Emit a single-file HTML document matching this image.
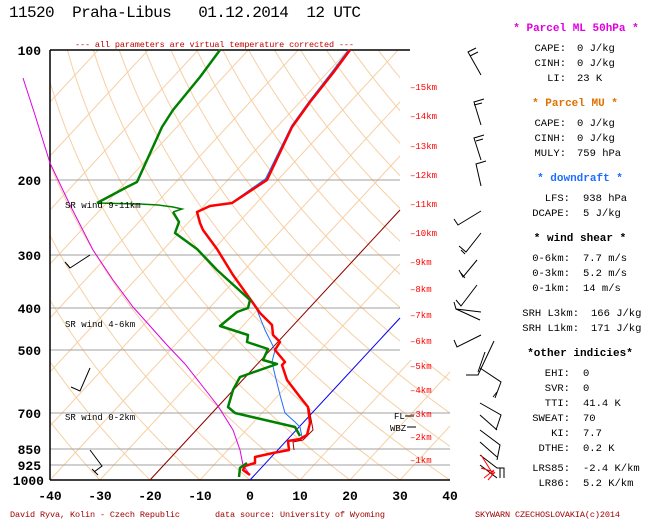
<!DOCTYPE html>
<html><head><meta charset="utf-8"><style>
html,body{margin:0;padding:0;background:#fff;}
svg{display:block;font-family:"Liberation Mono",monospace;}
</style></head><body>
<svg id="s" width="651" height="521" viewBox="0 0 651 521" xmlns="http://www.w3.org/2000/svg">
<defs>
<clipPath id="cp"><polygon points="50,50 400,50 400,360 450,360 450,480 50,480"/></clipPath>
</defs>
<rect width="651" height="521" fill="#fff"/>
<g id="grid" clip-path="url(#cp)" stroke="#f7cfa3" stroke-width="1" fill="none"></g>
<g stroke="#a0a0a0" stroke-width="1">
<line x1="50" y1="180" x2="400" y2="180"/>
<line x1="50" y1="255" x2="400" y2="255"/>
<line x1="50" y1="308" x2="400" y2="308"/>
<line x1="50" y1="350" x2="400" y2="350"/>
<line x1="50" y1="413" x2="450" y2="413"/>
<line x1="50" y1="449" x2="450" y2="449"/>
<line x1="50" y1="465" x2="450" y2="465"/>
</g>
<g stroke="#000" stroke-width="1.5" fill="none">
<line x1="50" y1="50" x2="410" y2="50"/>
<line x1="50" y1="50" x2="50" y2="480"/>
<line x1="50" y1="480" x2="450" y2="480"/>
</g>
<!-- brown and blue isotherms -->
<line x1="150" y1="480" x2="400" y2="210" stroke="#8b0000" stroke-width="1"/>
<line x1="250" y1="480" x2="400" y2="318" stroke="#0000ff" stroke-width="1"/>
<!-- magenta -->
<polyline fill="none" stroke="#e000e0" stroke-width="1" points="23,78 35,115 50,163 70,205 93,250 113,280 133,307 150,326 167,345 185,364 200,383 218,406 233,430 240,450 243,465 250,475"/>
<!-- thin blue -->
<polyline fill="none" stroke="#1e6eff" stroke-width="1" points="253,303 257,310 265,330 275,350 272,362 275,375 280,395 285,413 295,422 300,427 302,437"/>
<polyline fill="none" stroke="#1e6eff" stroke-width="2" points="349,50 331,74 310,101 292,126 266,179 232,203"/>
<!-- thin dark red -->
<polyline fill="none" stroke="#a00000" stroke-width="1" points="309,408 313,430 303,440 293,442 294,450"/>
<!-- temperature -->
<polyline fill="none" stroke="#ff0000" stroke-width="2.5" stroke-linejoin="round" points="350,50 333,73 310,102 292,127 267,180 232,203 210,206 197,212 200,223 203,230 217,249 233,275 253,303 260,313 272,325 273,335 280,342 275,350 285,362 282,365 287,380 300,397 308,407 310,423 307,435 300,439 288,441 289,450 273,453 255,457 255,463 245,466 243,470 250,475"/>
<!-- dewpoint -->
<polyline fill="none" stroke="#008000" stroke-width="2.5" stroke-linejoin="round" points="220,50 200,77 173,110 162,127 137,182 127,187 97,203"/>
<polyline fill="none" stroke="#008000" stroke-width="1.5" points="97,203 140,204 158,205 173,207 182,209 173,212"/>
<polyline fill="none" stroke="#008000" stroke-width="2.5" stroke-linejoin="round" points="173,212 179,222 175,233 197,249 217,270 250,300 248,308 237,312 220,326 248,335 247,342 268,349 263,360 277,364 240,377 233,390 228,407 235,413 295,427 300,436"/>
<polyline fill="none" stroke="#008000" stroke-width="2.5" points="247,463 240,468 239,477"/>
<!-- pressure labels -->
<g font-weight="bold" font-size="13" text-anchor="end" fill="#000">
<text x="41" y="55">100</text><text x="41" y="185">200</text><text x="41" y="260">300</text>
<text x="41" y="313">400</text><text x="41" y="355">500</text><text x="41" y="418">700</text>
<text x="41" y="454">850</text><text x="41" y="470">925</text><text x="44" y="485">1000</text>
</g>
<g font-weight="bold" font-size="13" text-anchor="middle" fill="#000">
<text x="50" y="500">-40</text><text x="100" y="500">-30</text><text x="150" y="500">-20</text>
<text x="200" y="500">-10</text><text x="250" y="500">0</text><text x="300" y="500">10</text>
<text x="350" y="500">20</text><text x="400" y="500">30</text><text x="450" y="500">40</text>
</g>
<!-- height labels -->
<g font-size="9" fill="#ff0000">
<text x="410" y="90">–15km</text><text x="410" y="119">–14km</text><text x="410" y="149">–13km</text>
<text x="410" y="178">–12km</text><text x="410" y="207">–11km</text><text x="410" y="236">–10km</text>
<text x="410" y="265">–9km</text><text x="410" y="292">–8km</text><text x="410" y="318">–7km</text>
<text x="410" y="344">–6km</text><text x="410" y="369">–5km</text><text x="410" y="393">–4km</text>
<text x="410" y="417">–3km</text><text x="410" y="440">–2km</text><text x="410" y="463">–1km</text>
</g>
<g font-size="9" fill="#000">
<text x="394" y="419">FL</text><line x1="405" y1="416" x2="414" y2="416" stroke="#000"/>
<text x="390" y="431">WBZ</text><line x1="407" y1="427" x2="416" y2="427" stroke="#000"/>
<text x="65" y="208">SR wind 9-11km</text><text x="65" y="327">SR wind 4-6km</text><text x="65" y="420">SR wind 0-2km</text>
</g>
<!-- left barbs -->
<g stroke="#000" stroke-width="1" fill="none">
<polyline points="90,255 70,268 65,262"/><line x1="67" y1="264" x2="70" y2="268"/>
<polyline points="90,368 80,391 71,387"/>
<polyline points="90,450 102,466 94,472"/><line x1="92" y1="469" x2="98" y2="475"/>
</g>
<!-- right barbs -->
<g stroke="#000" stroke-width="1" fill="none">
<polyline points="481,75 468,52 476,48"/><polyline points="470,56 478,52"/>
<polyline points="481,125 474,102 484,99"/><line x1="474" y1="105" x2="482" y2="103"/>
<polyline points="481,160 474,138 484,135"/><line x1="476" y1="141" x2="483" y2="139"/>
<polyline points="481,186 476,164 486,161"/>
<polyline points="481,211 458,225 454,219"/>
<polyline points="481,233 466,252 459,246"/><line x1="461" y1="250" x2="465" y2="254"/>
<polyline points="477,260 463,277 459,270"/><line x1="461" y1="273" x2="465" y2="278"/>
<polyline points="477,285 461,306 456,300"/>
<polyline points="481,312 456,309 454,302"/><line x1="456" y1="309" x2="480" y2="320"/>
<polyline points="481,335 457,347 454,340"/>
<polyline points="494,341 478,375 466,375"/><line x1="485" y1="352" x2="478" y2="372"/>
<polyline points="480,368 501,382 495,398"/><line x1="497" y1="392" x2="493" y2="397"/>
<polyline points="480,403 501,415 496,430"/><line x1="480" y1="415" x2="497" y2="430"/>
<polyline points="480,430 500,445 497,460"/><line x1="480" y1="442" x2="497" y2="457"/>
<polyline points="480,455 497,468 504,468 504,478"/><line x1="480" y1="465" x2="497" y2="478"/><line x1="500" y1="468" x2="500" y2="478"/>
</g>
<g stroke="#ff0000" stroke-width="1" fill="none">
<line x1="481" y1="455" x2="493" y2="474"/><line x1="481" y1="468" x2="494" y2="472"/><line x1="484" y1="478" x2="494" y2="470"/><line x1="488" y1="480" x2="495" y2="472"/>
</g>
<!-- header -->
<text x="9" y="17" font-size="16" textLength="352" fill="#000" xml:space="preserve">11520  Praha-Libus   01.12.2014  12 UTC</text>
<text x="75" y="47" font-size="8.5" textLength="279" fill="#c00000">--- all parameters are virtual temperature corrected ---</text>
<!-- footer -->
<g font-size="8.5" fill="#a00000">
<text x="10" y="517" textLength="170">David Ryva, Kolin - Czech Republic</text>
<text x="215" y="517" textLength="170">data source: University of Wyoming</text>
<text x="475" y="517" textLength="145">SKYWARN CZECHOSLOVAKIA(c)2014</text>
</g>
<!-- right panel -->
<g font-size="11" font-weight="bold" text-anchor="middle">
<text x="576" y="31" fill="#e000e0">* Parcel ML 50hPa *</text>
<text x="575" y="106" fill="#e07000">* Parcel MU *</text>
<text x="580" y="181" fill="#1e6eff">* downdraft *</text>
<text x="580" y="241" fill="#000">* wind shear *</text>
<text x="580" y="356" fill="#000">*other indicies*</text>
</g>
<g font-size="10.5" fill="#000">
<g text-anchor="end">
<text x="566" y="51">CAPE:</text><text x="566" y="66">CINH:</text><text x="566" y="81">LI:</text>
<text x="566" y="126">CAPE:</text><text x="566" y="141">CINH:</text><text x="566" y="156">MULY:</text>
<text x="570" y="201">LFS:</text><text x="570" y="216">DCAPE:</text>
<text x="570" y="261">0-6km:</text><text x="570" y="276">0-3km:</text><text x="570" y="291">0-1km:</text>
<text x="579" y="316">SRH L3km:</text><text x="579" y="331">SRH L1km:</text>
<text x="570" y="376">EHI:</text><text x="570" y="391">SVR:</text><text x="570" y="406">TTI:</text>
<text x="570" y="421">SWEAT:</text><text x="570" y="436">KI:</text><text x="570" y="451">DTHE:</text>
<text x="570" y="471">LRS85:</text><text x="570" y="486">LR86:</text>
</g>
<text x="577" y="51">0 J/kg</text><text x="577" y="66">0 J/kg</text><text x="577" y="81">23 K</text>
<text x="577" y="126">0 J/kg</text><text x="577" y="141">0 J/kg</text><text x="577" y="156">759 hPa</text>
<text x="583" y="201">938 hPa</text><text x="583" y="216">5 J/kg</text>
<text x="583" y="261">7.7 m/s</text><text x="583" y="276">5.2 m/s</text><text x="583" y="291">14 m/s</text>
<text x="591" y="316">166 J/kg</text><text x="591" y="331">171 J/kg</text>
<text x="583" y="376">0</text><text x="583" y="391">0</text><text x="583" y="406">41.4 K</text>
<text x="583" y="421">70</text><text x="583" y="436">7.7</text><text x="583" y="451">0.2 K</text>
<text x="583" y="471">-2.4 K/km</text><text x="583" y="486">5.2 K/km</text>
</g>
<script>
(function(){
var g=document.getElementById('grid'),ns='http://www.w3.org/2000/svg';
var K=186.7,S=0.926;
function X(T,y){return 50+(T+40)*5+(480-y)*S;}
function Y(p){return 480-K*Math.log(1000/p);}
for(var T=-130;T<=40;T+=10){
 var l=document.createElementNS(ns,'line');
 l.setAttribute('x1',X(T,480));l.setAttribute('y1',480);
 l.setAttribute('x2',X(T,40));l.setAttribute('y2',40);g.appendChild(l);
}
for(var th=-40;th<=260;th+=10){
 var pts=[];
 for(var p=1050;p>=90;p-=10){
  var t=(th+273.15)*Math.pow(p/1000,0.2857)-273.15;var y=Y(p);
  pts.push(X(t,y).toFixed(1)+','+y.toFixed(1));
 }
 var pl=document.createElementNS(ns,'polyline');
 pl.setAttribute('points',pts.join(' '));g.appendChild(pl);
}
})();
</script>
</svg>
</body></html>
